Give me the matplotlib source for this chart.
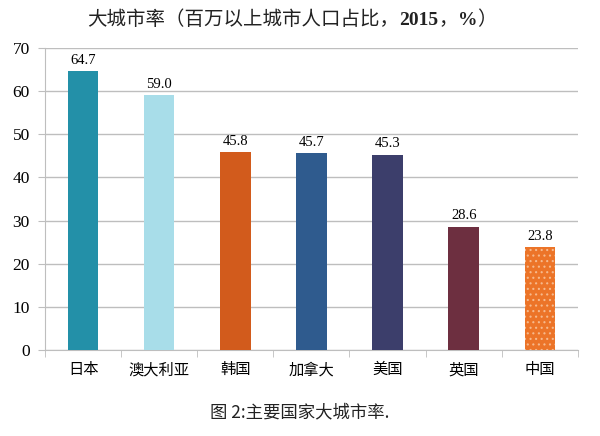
import matplotlib
matplotlib.use("Agg")
import matplotlib.pyplot as plt
from matplotlib.offsetbox import TextArea, HPacker, AnnotationBbox

categories = ["日本", "澳大利亚", "韩国", "加拿大", "美国", "英国", "中国"]
values = [64.7, 59.0, 45.8, 45.7, 45.3, 28.6, 23.8]
colors = ["#2390A8", "#A8DDE9", "#D25B1C", "#2F5B8E", "#3C3E6B", "#6D2F40", "#EC7428"]
yticks = [0, 10, 20, 30, 40, 50, 60, 70]

cjk = ["Noto Sans CJK SC", "DejaVu Sans"]
serif = ["Liberation Serif", "Noto Sans CJK SC"]

plt.rcParams['hatch.color'] = '#F6B98C'
plt.rcParams['hatch.linewidth'] = 0.8

fig = plt.figure(figsize=(6, 4.36), dpi=100)
ax = fig.add_axes([0.075, 0.197, 0.888, 0.693])

x = list(range(len(categories)))
for i, (v, c) in enumerate(zip(values, colors)):
    if categories[i] == "中国":
        ax.bar(i, v, width=0.4, color=c, edgecolor='#F6B98C', linewidth=0, hatch='...', zorder=3)
    else:
        ax.bar(i, v, width=0.4, color=c, linewidth=0, zorder=3)
    ax.text(i, v + 1.0, f"{v:.1f}", ha='center', va='bottom', fontsize=10.5, family=serif)

ax.set_xlim(-0.5, len(categories) - 0.5)
ax.set_ylim(0, 70)
ax.set_yticks(yticks)
ax.set_yticklabels([str(t) for t in yticks], family=serif, fontsize=12.5)
ax.yaxis.grid(True, color='#BEBEBE', linewidth=1, zorder=0)
ax.set_axisbelow(True)
ax.set_xticks(x)
ax.set_xticklabels(categories, family=cjk, fontsize=11)
ax.tick_params(axis='x', which='major', length=0, pad=8)
ax.set_xticks([i + 0.5 for i in range(-1, len(categories))], minor=True)
ax.tick_params(axis='x', which='minor', length=5, color='#BEBEBE', direction='out')
ax.tick_params(axis='y', length=5, color='#BEBEBE', direction='out', pad=6)
for s in ['top', 'right']:
    ax.spines[s].set_visible(False)
for s in ['left', 'bottom']:
    ax.spines[s].set_color('#BEBEBE')

parts = [("大城市率（百万以上城市人口占比，", "normal", cjk),
         ("2015", "bold", serif),
         ("，", "normal", cjk),
         ("%", "bold", serif),
         ("）", "normal", cjk)]
areas = [TextArea(t, textprops=dict(fontsize=14, fontweight=w, family=f, color='#222222'))
         for t, w, f in parts]
box = HPacker(children=areas, align="baseline", pad=0, sep=0)
ab = AnnotationBbox(box, (0.487, 0.955), xycoords='figure fraction', frameon=False,
                    box_alignment=(0.5, 0.5))
fig.add_artist(ab)

fig.text(0.5, 0.055, "图 2:主要国家大城市率.", ha='center', va='center',
         fontsize=12.5, family=cjk, color='#222222')

fig.savefig("out.png", dpi=100)
